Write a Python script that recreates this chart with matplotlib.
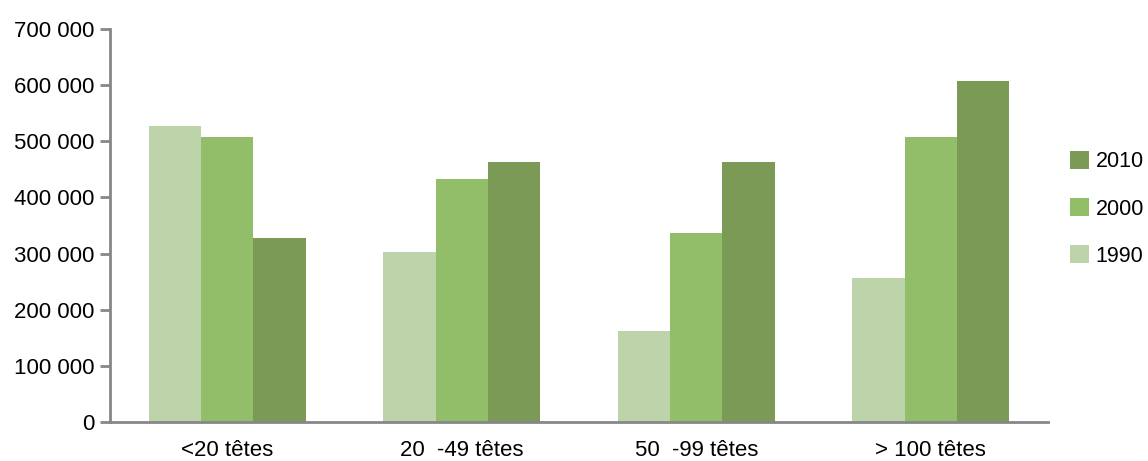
import matplotlib.pyplot as plt
import numpy as np

plt.rcParams['font.family'] = ['Liberation Sans', 'DejaVu Sans']

# Nombre de têtes par classe de taille de troupeau
categories = ["<20 têtes", "20  -49 têtes", "50  -99 têtes", "> 100 têtes"]
v1990 = [527000, 303000, 162000, 257000]
v2000 = [507000, 432000, 337000, 507000]
v2010 = [328000, 463000, 463000, 607000]

c1990 = "#BDD3AA"
c2000 = "#92BE6A"
c2010 = "#7A9A55"

fig = plt.figure(figsize=(11.48, 4.61), dpi=100)
ax = fig.add_axes([0.0958, 0.0846, 0.8172, 0.8524])

x = np.arange(len(categories))
w = 0.223
b1 = ax.bar(x - w, v1990, w, color=c1990, label="1990")
b2 = ax.bar(x, v2000, w, color=c2000, label="2000")
b3 = ax.bar(x + w, v2010, w, color=c2010, label="2010")

ax.set_xlim(-0.5, 3.5)
ax.set_ylim(0, 700000)
ax.set_yticks(np.arange(0, 700001, 100000))
ax.set_yticklabels([f"{v:,}".replace(",", " ") for v in range(0, 700001, 100000)])
ax.set_xticks(x)
ax.set_xticklabels(categories)

for s in ["top", "right"]:
    ax.spines[s].set_visible(False)
for s in ["left", "bottom"]:
    ax.spines[s].set_color("#86868B")
    ax.spines[s].set_linewidth(2)
ax.tick_params(axis="y", length=7, width=2, color="#86868B", labelsize=16, pad=4.5)
ax.tick_params(axis="x", length=0, labelsize=16, pad=13)

# légende à droite, ordre inversé
fig.legend([b3, b2, b1], ["2010", "2000", "1990"], loc="center left",
           bbox_to_anchor=(0.9245, 0.547), frameon=False, fontsize=15.5,
           handlelength=0.9, handleheight=0.9, handletextpad=0.3,
           labelspacing=1.2, borderaxespad=0)

fig.savefig("out.png", dpi=100)
